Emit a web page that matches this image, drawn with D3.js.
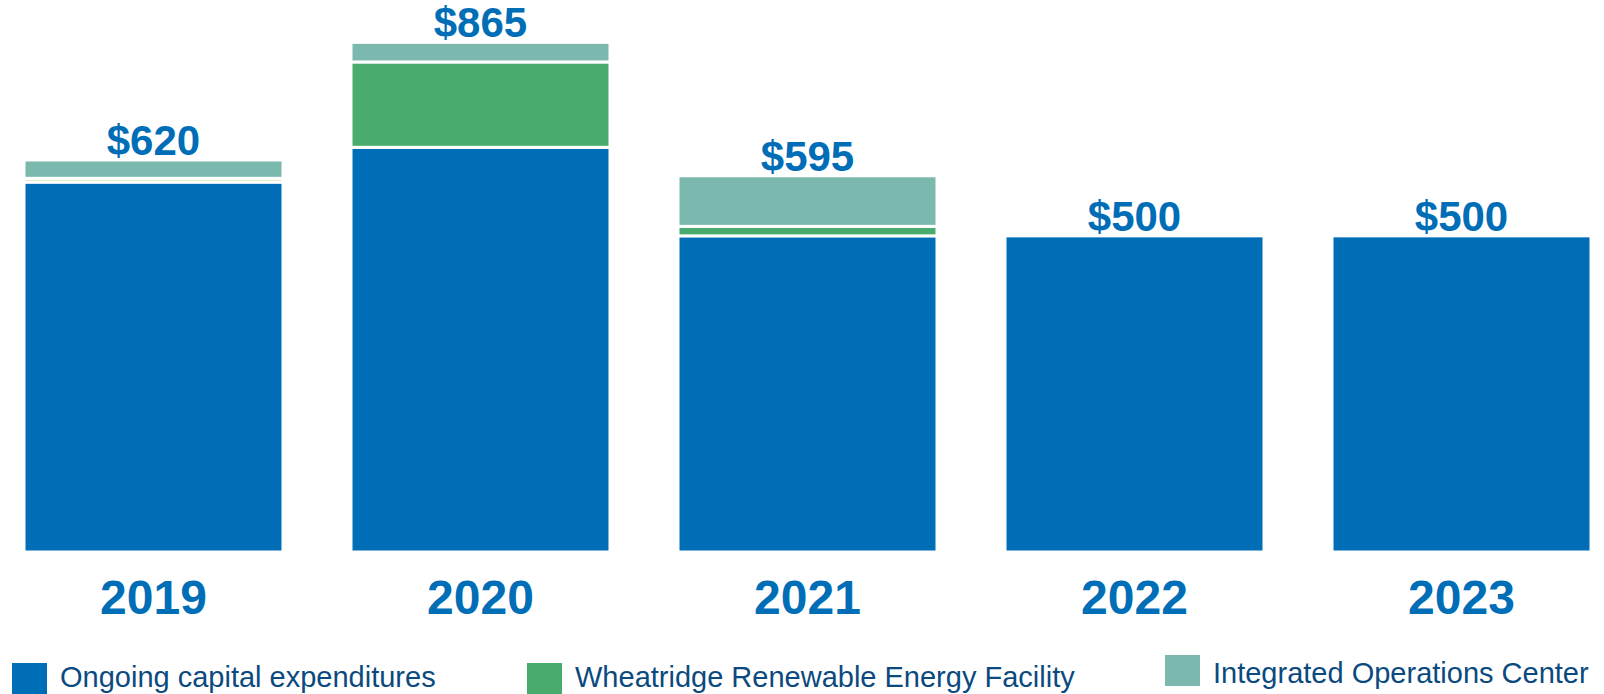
<!DOCTYPE html>
<meta charset="utf-8">
<body>
<style>
body {
  margin: 0;
  background: #fff;
}
svg {
  display: block;
}
.total {
  font: bold 42px "Liberation Sans", Arial, sans-serif;
  fill: #006eb7;
  text-anchor: middle;
}
.year {
  font: bold 48px "Liberation Sans", Arial, sans-serif;
  fill: #006eb7;
  text-anchor: middle;
}
.legend text {
  font: 29px "Liberation Sans", Arial, sans-serif;
  fill: #0b4a7f;
}
</style>

<script src="https://cdn.jsdelivr.net/npm/d3@7"></script>
<script>

// capital expenditures, $ millions
var years = ["2019", "2020", "2021", "2022", "2023"];
var totals = ["$620", "$865", "$595", "$500", "$500"];
var ongoing = [585, 640, 500, 500, 500];
var wheatridge = [0, 135, 15, 0, 0];
var otherSmall = [6, 0, 0, 0, 0];
var operationsCenter = [29, 31, 80, 0, 0];

var seriesNames = ["Ongoing capital expenditures", "Wheatridge Renewable Energy Facility", "Other", "Integrated Operations Center"];
var seriesColors = ["#006eb7", "#4aab6f", "#d4e29c", "#7bb8ae"];
var inLegend = [true, true, false, true];

var width = 1604,
    height = 694;

var svg = d3.select("body").append("svg")
    .attr("width", width)
    .attr("height", height);

var rows = years.map(function(y, i) {
  return {year: y, s0: ongoing[i], s1: wheatridge[i], s2: otherSmall[i], s3: operationsCenter[i]};
});

var stack = d3.stack().keys(["s0", "s1", "s2", "s3"]);
var layers = stack(rows);

var x = d3.scaleBand()
    .domain(years)
    .range([24, 1591])
    .paddingInner(0.208)
    .paddingOuter(0);

var y = d3.scaleLinear()
    .domain([0, 873])
    .range([552, 0]);

var layer = svg.selectAll("g.layer")
  .data(layers)
  .enter().append("g")
    .attr("class", "layer")
    .attr("fill", function(d, i) { return seriesColors[i]; });

layer.selectAll("rect")
  .data(function(d) { return d.filter(function(p) { return p[1] - p[0] > 0; }); })
  .enter().append("rect")
    .attr("x", function(d) { return x(d.data.year); })
    .attr("y", function(d) { return y(d[1]); })
    .attr("width", x.bandwidth())
    .attr("height", function(d) { return y(d[0]) - y(d[1]); })
    .attr("stroke", "#fff")
    .attr("stroke-width", 3);

// totals above the bars
svg.selectAll("text.total")
  .data(rows)
  .enter().append("text")
    .attr("class", "total")
    .attr("x", function(d) { return x(d.year) + x.bandwidth() / 2; })
    .attr("y", function(d) { return y(d.s0 + d.s1 + d.s2 + d.s3) - 5; })
    .text(function(d, i) { return totals[i]; });

// year labels under the bars
svg.selectAll("text.year")
  .data(years)
  .enter().append("text")
    .attr("class", "year")
    .attr("x", function(d) { return x(d) + x.bandwidth() / 2; })
    .attr("y", 614)
    .text(function(d) { return d; });

// legend
var legendX = [12, 527, 1165];
var legendY = [663, 663, 655];
var legendTextY = [24, 24, 28];
var legendItems = seriesNames.map(function(n, i) { return {name: n, color: seriesColors[i], show: inLegend[i]}; })
    .filter(function(d) { return d.show; });

var legend = svg.append("g").attr("class", "legend")
  .selectAll("g")
  .data(legendItems)
  .enter().append("g")
    .attr("transform", function(d, i) { return "translate(" + legendX[i] + "," + legendY[i] + ")"; });

legend.append("rect")
    .attr("width", 35)
    .attr("height", 31)
    .attr("fill", function(d) { return d.color; });

legend.append("text")
    .attr("x", 48)
    .attr("y", function(d, i) { return legendTextY[i]; })
    .text(function(d) { return d.name; });

</script>
</body>
